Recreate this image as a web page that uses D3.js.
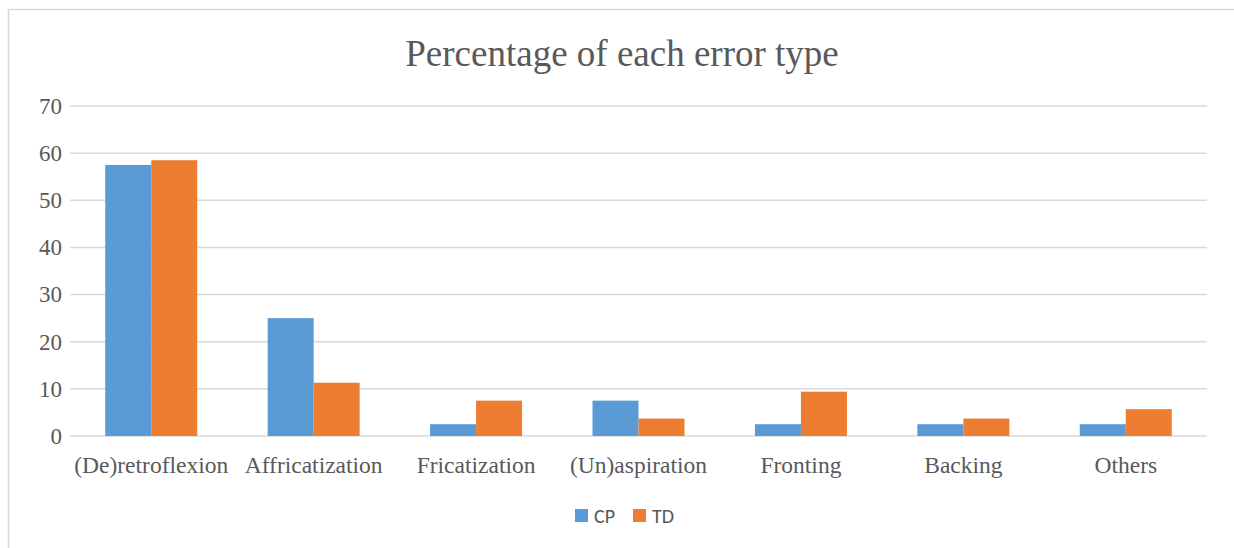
<!DOCTYPE html>
<html>
<head>
<meta charset="UTF-8">
<title>Percentage of each error type</title>
<script src="https://d3js.org/d3.v7.min.js"></script>
<style>
body { margin: 0; background: #fff; }
.grid line { stroke: #d9d9d9; stroke-width: 1.5; }
.axis text { font-family: "Liberation Serif", "Times New Roman", serif; fill: #595959; }
</style>
</head>
<body>
<svg width="1234" height="548"></svg>
<script>
var categories = ["(De)retroflexion", "Affricatization", "Fricatization", "(Un)aspiration", "Fronting", "Backing", "Others"]
var seriesNames = ["CP", "TD"]
var cpValues = [57.5, 25, 2.5, 7.5, 2.5, 2.5, 2.5]
var tdValues = [58.5, 11.3, 7.5, 3.7, 9.4, 3.7, 5.7]
var yTicks = [0, 10, 20, 30, 40, 50, 60, 70]
var colors = ["#5b9bd5", "#ed7d31"]

var svg = d3.select("svg")

// chart border (cropped on the right and bottom)
svg.append("rect")
  .attr("x", 8.5).attr("y", 9.5)
  .attr("width", 1240).attr("height", 560)
  .attr("fill", "none")
  .attr("stroke", "#d9d9d9")
  .attr("stroke-width", 1.5)

var plotLeft = 70, plotRight = 1207, plotTop = 106, plotBottom = 436

var x = d3.scaleBand().domain(categories).range([plotLeft, plotRight])
var x1 = d3.scaleBand().domain(seriesNames).range([0, 92])
var y = d3.scaleLinear().domain([0, 70]).range([plotBottom, plotTop])

svg.append("text")
  .attr("x", 622).attr("y", 66)
  .attr("text-anchor", "middle")
  .style("font-family", "'Liberation Serif', 'Times New Roman', serif")
  .style("font-size", "37px")
  .style("fill", "#595959")
  .text("Percentage of each error type")

svg.append("g")
  .attr("class", "grid")
  .selectAll("line")
  .data(yTicks)
  .enter().append("line")
  .attr("x1", plotLeft).attr("x2", plotRight)
  .attr("y1", function(d) { return y(d) })
  .attr("y2", function(d) { return y(d) })

var yAxis = svg.append("g")
  .attr("class", "axis")
  .attr("transform", "translate(" + (plotLeft - 8) + ",0)")
  .call(d3.axisLeft(y).tickValues(yTicks).tickSize(0).tickPadding(0))
yAxis.select(".domain").remove()
yAxis.selectAll("text").style("font-size", "23px")

var data = categories.map(function(c, i) {
  return { cat: c, vals: [cpValues[i], tdValues[i]] }
})

var groups = svg.selectAll(".grp")
  .data(data)
  .enter().append("g")
  .attr("class", "grp")
  .attr("transform", function(d) {
    return "translate(" + (x(d.cat) + x.bandwidth() / 2 - 46) + ",0)"
  })

groups.selectAll("rect")
  .data(function(d) { return d.vals.map(function(v, i) { return { s: seriesNames[i], v: v, i: i } }) })
  .enter().append("rect")
  .attr("x", function(d) { return x1(d.s) })
  .attr("width", x1.bandwidth())
  .attr("y", function(d) { return y(d.v) })
  .attr("height", function(d) { return plotBottom - y(d.v) })
  .attr("fill", function(d) { return colors[d.i] })

var xAxis = svg.append("g")
  .attr("class", "axis")
  .attr("transform", "translate(0," + plotBottom + ")")
  .call(d3.axisBottom(x).tickSize(0).tickPadding(20))
xAxis.select(".domain").remove()
xAxis.selectAll("text").style("font-size", "23.5px")

// legend
var legend = svg.append("g").attr("transform", "translate(575,509)")
var items = legend.selectAll("g")
  .data(seriesNames)
  .enter().append("g")
  .attr("transform", function(d, i) { return "translate(" + (i * 58) + ",0)" })
items.append("rect")
  .attr("width", 13).attr("height", 13)
  .attr("fill", function(d, i) { return colors[i] })
items.append("text")
  .attr("x", 19).attr("y", 14)
  .style("font-family", "Carlito, 'Liberation Sans', sans-serif")
  .style("font-size", "20px")
  .style("fill", "#595959")
  .text(function(d) { return d })
</script>
</body>
</html>
